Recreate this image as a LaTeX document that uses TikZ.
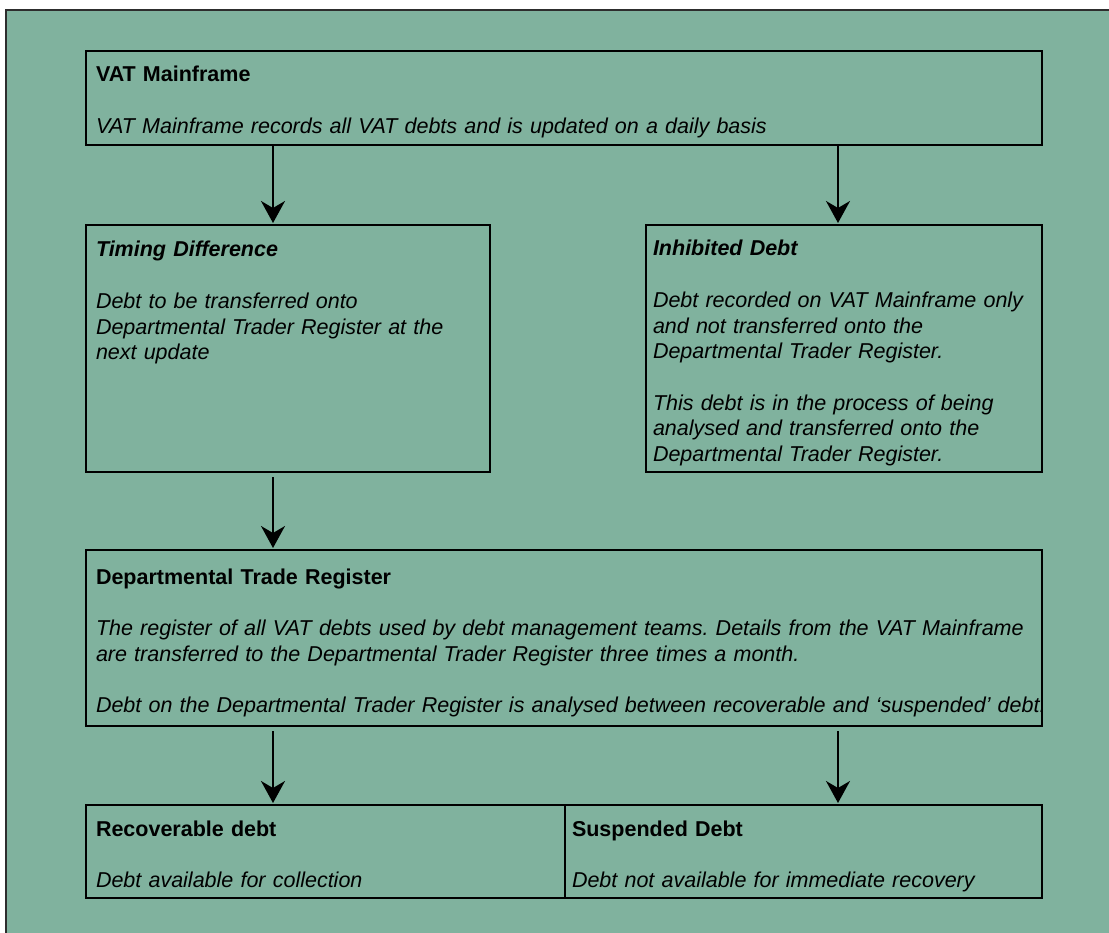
\documentclass[tikz,border=0pt]{standalone}
\usepackage{fontspec}
\setmainfont{Liberation Sans}
\usetikzlibrary{arrows.meta}
\definecolor{bgreen}{RGB}{128,178,158}
\definecolor{framegray}{RGB}{45,45,45}
\frenchspacing
\begin{document}
\begin{tikzpicture}[x=1pt,y=-1pt,
  box/.style={draw=black, line width=2pt, inner sep=0pt, outer sep=0pt, anchor=north west},
  txt/.style={anchor=base west, inner sep=0pt, outer sep=0pt, text width=990pt, align=left,
    font=\fontsize{21.5pt}{25.7pt}\selectfont\frenchspacing},
  arr/.style={line width=2pt, -{Stealth[length=22pt,width=24pt,inset=7pt]}, shorten >=2pt},
]
\useasboundingbox (0,0) rectangle (1109,933);
\fill[bgreen] (6,10) rectangle (1109,933);
\draw[framegray, line width=2.2pt] (6,933) -- (6,10) -- (1109,10);

% boxes
\node[box, minimum width=956pt, minimum height=94pt] (vat) at (86,51) {};
\node[box, minimum width=404pt, minimum height=247pt] (tim) at (86,225) {};
\node[box, minimum width=396pt, minimum height=247pt] (inh) at (646,225) {};
\node[box, minimum width=956pt, minimum height=176pt] (dtr) at (86,550) {};
\node[box, minimum width=479pt, minimum height=93pt] (rec) at (86,805) {};
\node[box, minimum width=477pt, minimum height=93pt] (sus) at (565,805) {};

% texts
\node[txt] (vattxt) at (96,82) {\textbf{VAT Mainframe}\\[\baselineskip]
  \textit{VAT Mainframe records all VAT debts and is updated on a daily basis}};
\node[txt] (timtxt) at (96,257) {\textbf{\textit{Timing Difference}}\\[\baselineskip]
  \textit{Debt to be transferred onto}\\
  \textit{Departmental Trader Register at the}\\
  \textit{next update}};
\node[txt] (inhtxt) at (653,256) {\textbf{\textit{Inhibited Debt}}\\[\baselineskip]
  \textit{Debt recorded on VAT Mainframe only}\\
  \textit{and not transferred onto the}\\
  \textit{Departmental Trader Register.}\\[\baselineskip]
  \textit{This debt is in the process of being}\\
  \textit{analysed and transferred onto the}\\
  \textit{Departmental Trader Register.}};
\node[txt] (dtrtxt) at (96,584) {\textbf{Departmental Trade Register}\\[\baselineskip]
  \textit{The register of all VAT debts used by debt management teams. Details from the VAT Mainframe}\\
  \textit{are transferred to the Departmental Trader Register three times a month.}\\[\baselineskip]
  \textit{Debt on the Departmental Trader Register is analysed between recoverable and ‘suspended’ debt.}};
\node[txt] (rectxt) at (96,836) {\textbf{Recoverable debt}\\[\baselineskip]
  \textit{Debt available for collection}};
\node[txt] (sustxt) at (572,836) {\textbf{Suspended Debt}\\[\baselineskip]
  \textit{Debt not available for immediate recovery}};

% connectors
\draw[arr] ([xshift=187pt]vat.south west) -- ([xshift=187pt]tim.north west);
\draw[arr] ([xshift=752pt]vat.south west) -- ([xshift=192pt]inh.north west);
\draw[arr, shorten <=5pt] ([xshift=187pt]tim.south west) -- ([xshift=187pt]dtr.north west);
\draw[arr, shorten <=5pt] ([xshift=187pt]dtr.south west) -- ([xshift=187pt]rec.north west);
\draw[arr, shorten <=5pt] ([xshift=752pt]dtr.south west) -- ([xshift=273pt]sus.north west);
\end{tikzpicture}
\end{document}
